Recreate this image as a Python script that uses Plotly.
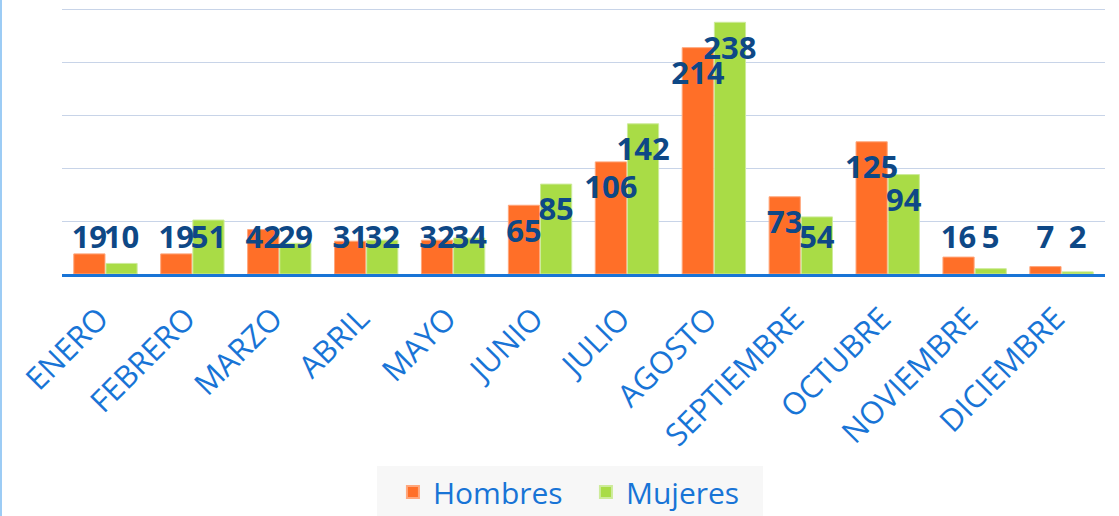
import plotly.graph_objects as go

meses = ["ENERO", "FEBRERO", "MARZO", "ABRIL", "MAYO", "JUNIO", "JULIO",
         "AGOSTO", "SEPTIEMBRE", "OCTUBRE", "NOVIEMBRE", "DICIEMBRE"]
hombres = [19, 19, 42, 31, 32, 65, 106, 214, 73, 125, 16, 7]
mujeres = [10, 51, 29, 32, 34, 85, 142, 238, 54, 94, 5, 2]

ORANGE = "#FF6F28"
GREEN = "#A9DC46"
LABEL = "#0E4886"
BLUE = "#1874D6"

def label_y(vals):
    return [max(v - 27, 31.5) for v in vals]

fig = go.Figure()
fig.add_trace(go.Bar(name="Hombres", x=meses, y=hombres, offsetgroup="h",
                     marker=dict(color=ORANGE, line=dict(color="#FFA77C", width=1))))
fig.add_trace(go.Bar(name="Mujeres", x=meses, y=mujeres, offsetgroup="m",
                     marker=dict(color=GREEN, line=dict(color="#CDEB9A", width=1))))
for name, vals in (("h", hombres), ("m", mujeres)):
    fig.add_trace(go.Scatter(x=meses, y=label_y(vals), text=[str(v) for v in vals],
                             mode="text", offsetgroup=name, showlegend=False,
                             textposition="middle center", hoverinfo="skip", cliponaxis=False,
                             textfont=dict(family="Open Sans", size=31, color=LABEL,
                                           weight="bold")))

fig.update_layout(
    width=1119, height=516,
    margin=dict(l=62, r=14, t=8, b=242, autoexpand=False),
    paper_bgcolor="white", plot_bgcolor="white",
    barmode="group", bargap=0.26, bargroupgap=0.03,
    scattermode="group", scattergap=0.26,
    showlegend=True,
    legend=dict(orientation="h", x=0.487, xanchor="center", y=-0.722, yanchor="top",
                bgcolor="#F7F7F7", font=dict(family="Open Sans", size=30, color=BLUE),
                itemsizing="constant", traceorder="normal", entrywidth=132,
                indentation=16),
    xaxis=dict(tickangle=-45, showline=True, linecolor=BLUE, linewidth=3,
               tickfont=dict(family="Open Sans", size=31, color=BLUE), automargin=False,
               ticks="", ticklabelstandoff=11, ticklabelshift=-6, showgrid=False),
    yaxis=dict(range=[0, 251.5], tickvals=[50, 100, 150, 200, 250], showticklabels=False,
               showgrid=True, automargin=False,
               gridcolor="#C8D4E8", gridwidth=1, zeroline=False),
    shapes=[dict(type="line", xref="paper", yref="paper",
                 x0=-0.0585, x1=-0.0585, y0=-0.95, y1=1.05,
                 line=dict(color="#9CCCF5", width=2))],
)

fig.write_html("out.html", config={"displayModeBar": False},
               post_script="document.body.style.margin='0';")
